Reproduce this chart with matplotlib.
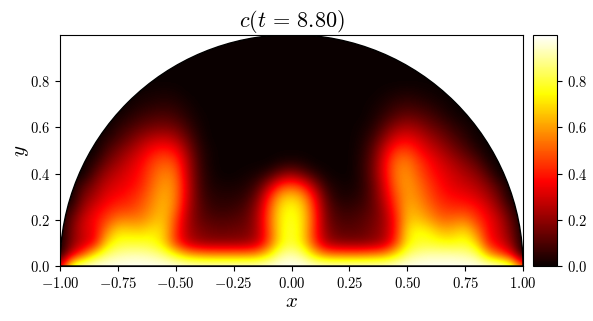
import matplotlib
matplotlib.use("Agg")
import matplotlib.pyplot as plt
import numpy as np
from matplotlib.patches import Wedge

plt.rcParams["mathtext.fontset"] = "cm"
plt.rcParams["font.family"] = "serif"
plt.rcParams["font.serif"] = ["cmr10", "DejaVu Serif"]
plt.rcParams["axes.formatter.use_mathtext"] = True

# rows of c, x from -1 to 1 in steps of 0.05
c_y000 = [.30, .85, .97, .99, .99, .99, .99, .99, .99, .99, .99, .98, .97, .97, .97, .97, .97, .97, .98, .99, .99,
          .99, .98, .97, .97, .97, .97, .97, .97, .98, .99, .99, .99, .99, .99, .99, .99, .99, .97, .88, .50]
c_y005 = [.00, .30, .48, .72, .85, .90, .92, .92, .90, .85, .74, .62, .58, .56, .56, .56, .56, .58, .70, .88, .92,
          .86, .66, .55, .53, .53, .53, .55, .58, .70, .85, .90, .92, .92, .92, .90, .86, .62, .48, .35, .00]
c_y010 = [.00, .18, .28, .36, .68, .78, .79, .79, .77, .68, .44, .28, .22, .20, .20, .20, .21, .26, .46, .72, .80,
          .70, .44, .24, .19, .18, .18, .20, .25, .44, .72, .78, .78, .76, .75, .78, .68, .40, .32, .20, .00]
c_y015 = [.00, .17, .30, .35, .56, .70, .69, .68, .72, .68, .44, .25, .18, .15, .14, .15, .16, .23, .46, .72, .80,
          .70, .42, .20, .13, .12, .13, .17, .23, .40, .70, .76, .72, .64, .65, .70, .56, .37, .29, .16, .00]
c_y020 = [.00, .14, .29, .37, .46, .55, .56, .56, .63, .66, .47, .25, .14, .11, .10, .11, .13, .23, .48, .72, .78,
          .70, .44, .17, .10, .09, .11, .15, .22, .40, .65, .66, .59, .52, .53, .55, .45, .36, .27, .12, .00]
c_y025 = [.00, .07, .22, .32, .39, .44, .45, .50, .58, .65, .53, .27, .13, .07, .06, .07, .10, .21, .46, .70, .76,
          .68, .42, .15, .07, .06, .08, .13, .24, .44, .63, .60, .52, .45, .43, .43, .39, .31, .20, .07, .00]
c_y030 = [.00, .00, .17, .24, .33, .37, .40, .46, .55, .63, .55, .30, .11, .05, .04, .04, .06, .15, .39, .62, .68,
          .60, .36, .11, .03, .03, .05, .13, .28, .48, .60, .56, .47, .40, .37, .35, .31, .24, .14, .00, .00]
c_y035 = [.00, .00, .10, .19, .28, .32, .36, .41, .52, .60, .55, .30, .10, .03, .02, .02, .03, .08, .23, .42, .48,
          .40, .21, .05, .02, .01, .04, .13, .31, .52, .60, .53, .44, .37, .32, .29, .25, .18, .08, .00, .00]
c_y040 = [.00, .00, .00, .12, .22, .28, .33, .39, .49, .56, .52, .28, .09, .02, .00, .00, .01, .02, .06, .15, .20,
          .13, .05, .01, .00, .00, .04, .15, .34, .54, .58, .49, .40, .34, .29, .24, .19, .10, .00, .00, .00]
c_y045 = [.00, .00, .00, .05, .15, .22, .29, .36, .45, .50, .46, .26, .08, .01, .00, .00, .00, .00, .00, .02, .03,
          .02, .00, .00, .00, .00, .04, .14, .34, .52, .55, .45, .37, .30, .24, .18, .12, .03, .00, .00, .00]
c_y050 = [.00, .00, .00, .00, .09, .16, .23, .30, .38, .41, .37, .21, .06, .01, .00, .00, .00, .00, .00, .00, .00,
          .00, .00, .00, .00, .00, .03, .12, .29, .44, .46, .38, .30, .24, .17, .11, .05, .00, .00, .00, .00]
c_y055 = [.00, .00, .00, .00, .04, .09, .15, .22, .27, .29, .25, .14, .04, .00, .00, .00, .00, .00, .00, .00, .00,
          .00, .00, .00, .00, .00, .02, .08, .20, .32, .35, .30, .23, .17, .11, .06, .01, .00, .00, .00, .00]
c_y060 = [.00, .00, .00, .00, .00, .05, .09, .13, .16, .17, .15, .08, .02, .00, .00, .00, .00, .00, .00, .00, .00,
          .00, .00, .00, .00, .00, .01, .04, .12, .21, .24, .21, .15, .11, .06, .03, .00, .00, .00, .00, .00]
c_y065 = [.00, .00, .00, .00, .00, .01, .04, .07, .09, .10, .08, .04, .01, .00, .00, .00, .00, .00, .00, .00, .00,
          .00, .00, .00, .00, .00, .00, .02, .06, .11, .14, .12, .09, .05, .02, .00, .00, .00, .00, .00, .00]
c_y070 = [.00, .00, .00, .00, .00, .00, .01, .03, .04, .05, .04, .02, .00, .00, .00, .00, .00, .00, .00, .00, .00,
          .00, .00, .00, .00, .00, .00, .01, .03, .06, .07, .06, .04, .02, .00, .00, .00, .00, .00, .00, .00]
c_y075 = [.00, .00, .00, .00, .00, .00, .00, .01, .015, .02, .015, .00, .00, .00, .00, .00, .00, .00, .00, .00, .00,
          .00, .00, .00, .00, .00, .00, .00, .01, .02, .03, .02, .01, .00, .00, .00, .00, .00, .00, .00, .00]
c_empty = [0.0] * 41

concentration = [c_y000, c_y005, c_y010, c_y015, c_y020, c_y025, c_y030, c_y035, c_y040, c_y045,
                 c_y050, c_y055, c_y060, c_y065, c_y070, c_y075, c_empty, c_empty, c_empty, c_empty, c_empty]

x_ticks = [-1.0, -0.75, -0.5, -0.25, 0.0, 0.25, 0.5, 0.75, 1.0]
x_labels = ["$-1.00$", "$-0.75$", "$-0.50$", "$-0.25$", "$0.00$", "$0.25$", "$0.50$", "$0.75$", "$1.00$"]
y_ticks = [0.0, 0.2, 0.4, 0.6, 0.8]
y_labels = ["$0.0$", "$0.2$", "$0.4$", "$0.6$", "$0.8$"]

fig = plt.figure(figsize=(5.93, 3.21), dpi=100)
ax = fig.add_axes([60 / 593, 1 - 266 / 321, 463 / 593, 231 / 321])
cax = fig.add_axes([533 / 593, 1 - 266 / 321, 24 / 593, 231 / 321])

img = ax.imshow(np.array(concentration), cmap="hot", vmin=0, vmax=0.999, origin="lower",
                extent=(-1.025, 1.025, -0.025, 1.025), interpolation="bicubic", aspect="auto")
dome = Wedge((0, 0), 1.0, 0, 180, transform=ax.transData, facecolor="none",
             edgecolor="black", linewidth=1.0)
ax.add_patch(dome)
img.set_clip_path(dome)

ax.set_xlim(-1, 1)
ax.set_ylim(0, 0.999)
ax.set_xticks(x_ticks)
ax.set_xticklabels(x_labels)
ax.set_yticks(y_ticks)
ax.set_yticklabels(y_labels)
ax.tick_params(labelsize=10.5)
ax.set_xlabel("$x$", fontsize=15, labelpad=2)
ax.set_ylabel("$y$", fontsize=15, labelpad=-1)
ax.set_title(r"$c(t\,=\,8.80)$", fontsize=16, pad=6)

cbar = fig.colorbar(img, cax=cax)
cbar.set_ticks(y_ticks)
cbar.set_ticklabels(y_labels)
cbar.ax.tick_params(labelsize=10.5)

fig.savefig("out.png", dpi=100)
